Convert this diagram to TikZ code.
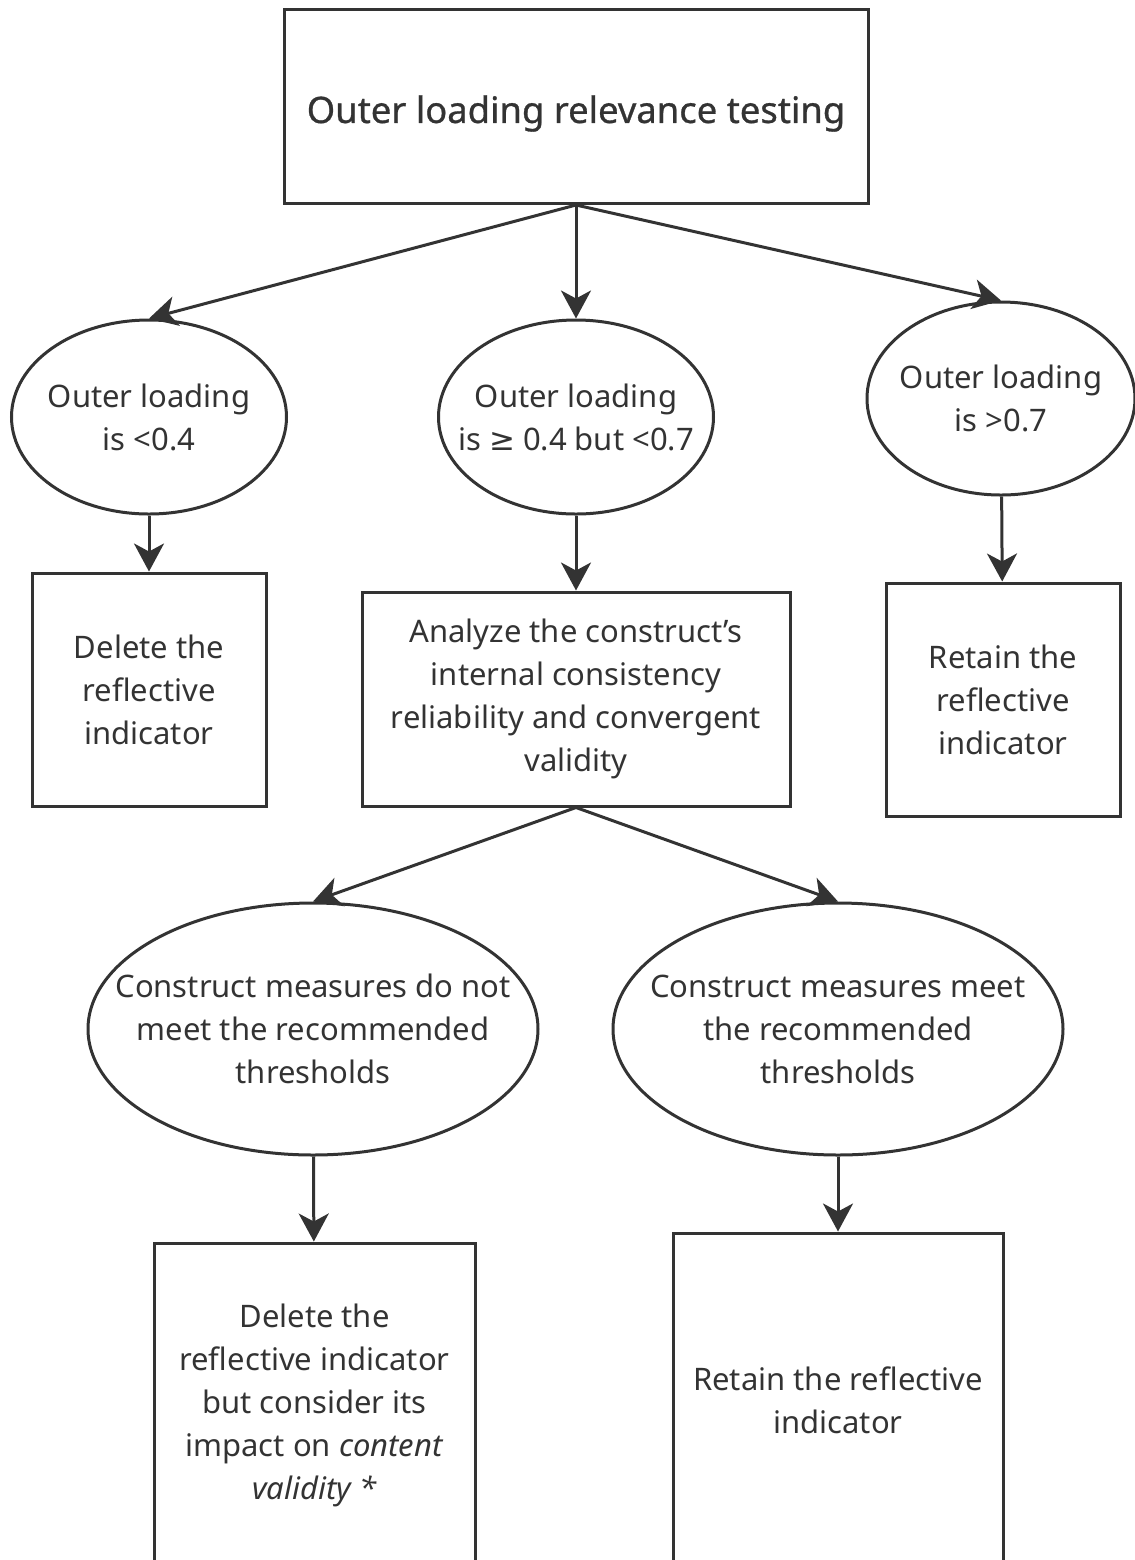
\documentclass[tikz,border=0pt]{standalone}
\usepackage{fontspec}
\setmainfont{Noto Sans}
\newfontfamily\symfont{DejaVu Sans}
\usetikzlibrary{shapes.geometric,arrows.meta}
\definecolor{ink}{HTML}{333333}

\begin{document}
\begin{tikzpicture}[x=0.5pt,y=-0.5pt,
  every node/.style={text=ink,font=\fontsize{15.5}{21.5}\selectfont},
  box/.style={draw=ink,line width=1.5pt,rectangle,inner sep=0pt,align=center},
  oval/.style={draw=ink,line width=1.5pt,ellipse,inner sep=0pt,
    minimum width=137.5pt,minimum height=97pt},
  inside/.style={align=center,inner sep=0pt},
  arr/.style={draw=ink,line width=1.5pt,-{Stealth[length=14pt,width=15pt,inset=4pt]}}]
  \useasboundingbox (0,0) rectangle (1135,1560);
  % top of the tree
  \node[box,minimum width=292pt,minimum height=97pt,
    label={[inside,yshift=-3.5pt,font=\fontsize{18.2}{23}\selectfont\addfontfeature{FakeBold=0.8}]center:Outer loading relevance testing}]
    (test) at (576,106.5) {};
  \node[oval,label={[inside]center:Outer loading\\is <0.4}]            (low)  at (149,417)  {};
  \node[oval,label={[inside]center:Outer loading\\is {\symfont ≥} 0.4 but <0.7}]  (mid)  at (576,417)  {};
  \node[oval,minimum width=134pt,minimum height=96.5pt,
    label={[inside]center:Outer loading\\is >0.7}]                     (high) at (1001,398.5) {};
  % second row
  \node[box,minimum width=117pt,minimum height=116.5pt] (droplow)  at (149,689.5) {Delete the\\reflective\\indicator};
  \node[box,minimum width=214pt,minimum height=107pt]   (analyze)  at (576,699)   {Analyze the construct's\\internal consistency\\reliability and convergent\\validity};
  \node[box,minimum width=117pt,minimum height=116.5pt] (keephigh) at (1003,699.5) {Retain the\\reflective\\indicator};
  % outcome of the analysis
  \node[oval,minimum width=225pt,minimum height=126pt,
    label={[inside]center:Construct measures do not\\meet the recommended\\thresholds}] (notmeet) at (313,1029) {};
  \node[oval,minimum width=225pt,minimum height=126pt,
    label={[inside]center:Construct measures meet\\the recommended\\thresholds}]       (meet)    at (838,1029) {};
  \node[box,minimum width=160.5pt,minimum height=162.5pt] (dropmid) at (314.5,1405.5)
    {Delete the\\reflective indicator\\but consider its\\impact on \textit{content}\\\textit{validity *}};
  \node[box,minimum width=165pt,minimum height=167.5pt]   (keepmid) at (838,1400.5)
    {Retain the reflective\\indicator};
  \draw[arr] (test.south) -- (low.north);
  \draw[arr] (test.south) -- (mid.north);
  \draw[arr] (test.south) -- (high.north);
  \draw[arr] (low) -- (droplow);
  \draw[arr] (mid) -- (analyze);
  \draw[arr] (high) -- (keephigh);
  \draw[arr] (analyze.south) -- (notmeet.north);
  \draw[arr] (analyze.south) -- (meet.north);
  \draw[arr] (notmeet) -- (dropmid);
  \draw[arr] (meet) -- (keepmid);
\end{tikzpicture}
\end{document}
